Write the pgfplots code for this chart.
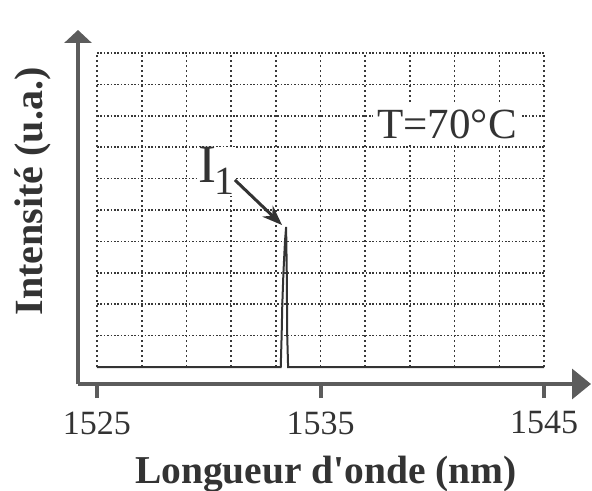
\documentclass[border=0pt]{standalone}
\usepackage{fontspec}
\setmainfont{Liberation Serif}
\usepackage{pgfplots}
\pgfplotsset{compat=1.18}
\usetikzlibrary{arrows.meta}
\definecolor{axisgray}{gray}{0.36}
\definecolor{inkgray}{gray}{0.2}
\definecolor{griddot}{gray}{0.22}

\begin{document}
\begin{tikzpicture}
\path[use as bounding box] (-78bp,-107bp) rectangle (514bp,384bp);
\begin{axis}[
  scale only axis, width=513bp, height=354bp,
  xmin=1524.15, xmax=1547.1, ymin=-0.54, ymax=10.73,
  axis x line=bottom, axis y line=left,
  x axis line style={line width=3.5bp, color=axisgray, -{Triangle[length=19bp,width=30bp]}},
  y axis line style={line width=3.5bp, color=axisgray, -{Triangle[length=13bp,width=27bp]}},
  xtick={1525,1535,1545}, ytick=\empty,
  tick align=outside, major tick length=14bp,
  x tick style={line width=4bp, color=axisgray},
  /pgf/number format/assume math mode=true,
  /pgf/number format/1000 sep={},
  xticklabel style={font=\fontsize{34bp}{34bp}\selectfont, text=inkgray, yshift=-10bp},
  xlabel={Longueur d\textquotesingle onde (nm)},
  ylabel={Intensité (u.a.)},
  xlabel style={at={(rel axis cs:0.4834,0)}, anchor=base, yshift=-99bp,
    font=\fontsize{39.5bp}{40bp}\selectfont\bfseries, text=inkgray},
  ylabel style={at={([xshift=-35bp]rel axis cs:0,0.544)}, anchor=base,
    font=\fontsize{40bp}{40bp}\selectfont\bfseries, text=inkgray},
  clip=false,
]
% dotted grid 1525..1545 x 0..10
\pgfplotsinvokeforeach{1525,1527,...,1545}{
  \draw[griddot, line width=1.6bp, dash pattern=on 1.6bp off 3.4bp] (axis cs:#1,0) -- (axis cs:#1,10);
}
\pgfplotsinvokeforeach{1,...,10}{
  \draw[griddot, line width=1.6bp, dash pattern=on 1.6bp off 1.8bp] (axis cs:1525,#1) -- (axis cs:1545,#1);
}
% spectrum
\addplot[inkgray, line width=2bp, no marks] coordinates {
  (1525,0) (1533.22,0) (1533.26,1) (1533.29,2) (1533.34,3) (1533.41,4)
  (1533.46,4.46) (1533.49,3) (1533.51,1) (1533.55,0) (1545,0)
};
\node[anchor=base, fill=white, inner xsep=4bp, inner ysep=6bp,
  font=\fontsize{43bp}{43bp}\selectfont, text=inkgray] at (axis cs:1540.66,7.29) {T=70°C};
\node[anchor=base west, fill=white, inner sep=1bp, text=inkgray] at (axis cs:1529.47,5.86)
  {\fontsize{54bp}{54bp}\selectfont I\kern-2bp\raisebox{-12bp}{\fontsize{40bp}{40bp}\selectfont 1}};
\draw[inkgray, line width=3bp, -{Stealth[length=20bp,width=15bp]}]
  (axis cs:1531.17,5.955) -- (axis cs:1533.28,4.52);
\end{axis}
\end{tikzpicture}
\end{document}
